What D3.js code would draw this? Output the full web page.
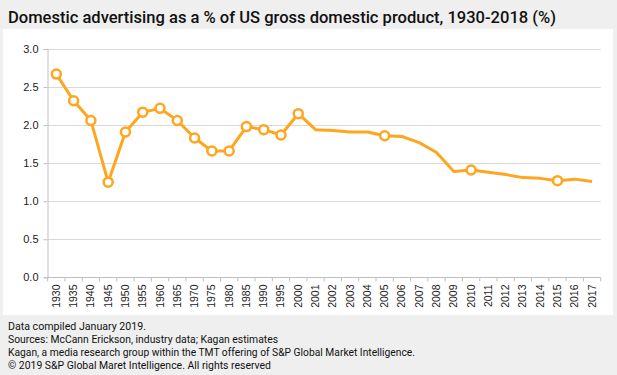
<!DOCTYPE html>
<html>
<head>
<meta charset="utf-8">
<script src="https://cdn.jsdelivr.net/npm/d3@7"></script>
<style>
  body { margin: 0; background: #efefef; }
  svg { display: block; }
</style>
</head>
<body>
<div id="chart"></div>
<script>
// data
const years = ["1930","1935","1940","1945","1950","1955","1960","1965","1970","1975",
  "1980","1985","1990","1995","2000","2001","2002","2003","2004","2005","2006","2007",
  "2008","2009","2010","2011","2012","2013","2014","2015","2016","2017"];
const share = [2.67,2.32,2.06,1.25,1.91,2.17,2.22,2.06,1.83,1.66,
  1.66,1.98,1.94,1.87,2.15,1.94,1.93,1.91,1.91,1.86,1.85,1.77,
  1.64,1.39,1.41,1.38,1.35,1.31,1.30,1.27,1.29,1.26];
const markedYears = ["1930","1935","1940","1945","1950","1955","1960","1965","1970","1975",
  "1980","1985","1990","1995","2000","2005","2010","2015"];
const yTicks = [0, 0.5, 1.0, 1.5, 2.0, 2.5, 3.0];
const title = "Domestic advertising as a % of US gross domestic product, 1930-2018 (%)";
const notes = [
  "Data compiled January 2019.",
  "Sources: McCann Erickson, industry data; Kagan estimates",
  "Kagan, a media research group within the TMT offering of S&P Global Market Intelligence.",
  "\u00A9 2019 S&P Global Maret Intelligence.  All rights reserved"
];

const width = 617, height = 375;
const orange = "#ffa51f";

const svg = d3.select("#chart").append("svg")
  .attr("width", width)
  .attr("height", height);

svg.append("rect").attr("width", width).attr("height", height).attr("fill", "#efefef");

// title
svg.append("text")
  .attr("x", 8).attr("y", 23)
  .attr("font-family", "Roboto, 'Liberation Sans', sans-serif")
  .attr("font-weight", 500)
  .attr("font-size", 17)
  .attr("fill", "#111")
  .attr("textLength", 548)
  .attr("lengthAdjust", "spacingAndGlyphs")
  .text(title);

// white panel
svg.append("rect")
  .attr("x", 3).attr("y", 29)
  .attr("width", 610).attr("height", 286)
  .attr("fill", "#fff");

const x = d3.scaleBand().domain(years).range([47.7, 600.7]).padding(0);
const y = d3.scaleLinear().domain([0, 3]).range([277.3, 49]);

// gridlines
svg.append("g")
  .selectAll("line")
  .data(yTicks.slice(1))
  .join("line")
  .attr("x1", 47.7).attr("x2", 600.7)
  .attr("y1", d => Math.round(y(d)) + 0.5)
  .attr("y2", d => Math.round(y(d)) + 0.5)
  .attr("stroke", "#d9d9d9");

// y axis
const yAxis = svg.append("g")
  .attr("transform", "translate(47.5,0)")
  .call(d3.axisLeft(y).tickValues(yTicks).tickFormat(d3.format(".1f")).tickSize(4).tickPadding(5));
yAxis.select(".domain").attr("stroke", "#bfbfbf");
yAxis.selectAll(".tick line").attr("stroke", "#bfbfbf");
yAxis.selectAll("text")
  .attr("font-family", "'Liberation Sans', Arial, sans-serif")
  .attr("font-size", 11)
  .attr("fill", "#222");

// x axis: ticks at band boundaries
const xg = svg.append("g").attr("transform", `translate(0,${Math.round(y(0)) + 0.5})`);
xg.append("line")
  .attr("x1", 47.7).attr("x2", 600.7)
  .attr("stroke", "#bfbfbf");
xg.selectAll("line.tk")
  .data(years.concat(["end"]))
  .join("line")
  .attr("class", "tk")
  .attr("x1", (d, i) => 47.7 + i * x.bandwidth())
  .attr("x2", (d, i) => 47.7 + i * x.bandwidth())
  .attr("y1", 0).attr("y2", 4)
  .attr("stroke", "#bfbfbf");
xg.selectAll("text")
  .data(years)
  .join("text")
  .attr("transform", d => `translate(${x(d) + x.bandwidth() / 2 + 3.5},7) rotate(-90)`)
  .attr("text-anchor", "end")
  .attr("font-family", "'Liberation Sans', Arial, sans-serif")
  .attr("font-size", 10.5)
  .attr("fill", "#222")
  .text(d => d);

// line
const data = years.map((yr, i) => ({ year: yr, value: share[i] }));
const line = d3.line()
  .x(d => x(d.year) + x.bandwidth() / 2)
  .y(d => y(d.value));

svg.append("path")
  .datum(data)
  .attr("fill", "none")
  .attr("stroke", orange)
  .attr("stroke-width", 3)
  .attr("stroke-linejoin", "round")
  .attr("d", line);

svg.append("g")
  .selectAll("circle")
  .data(data.filter(d => markedYears.includes(d.year)))
  .join("circle")
  .attr("cx", d => x(d.year) + x.bandwidth() / 2)
  .attr("cy", d => y(d.value))
  .attr("r", 4.5)
  .attr("fill", "#fff")
  .attr("stroke", orange)
  .attr("stroke-width", 2.5);

// footer notes
const noteLen = [138, 270, 407, 263];
svg.append("g")
  .selectAll("text")
  .data(notes)
  .join("text")
  .attr("x", 8)
  .attr("y", (d, i) => 330 + i * 13)
  .attr("font-family", "Roboto, 'Liberation Sans', sans-serif")
  .attr("font-size", 11)
  .attr("fill", "#111")
  .attr("textLength", (d, i) => noteLen[i])
  .attr("lengthAdjust", "spacingAndGlyphs")
  .text(d => d);
</script>
</body>
</html>
